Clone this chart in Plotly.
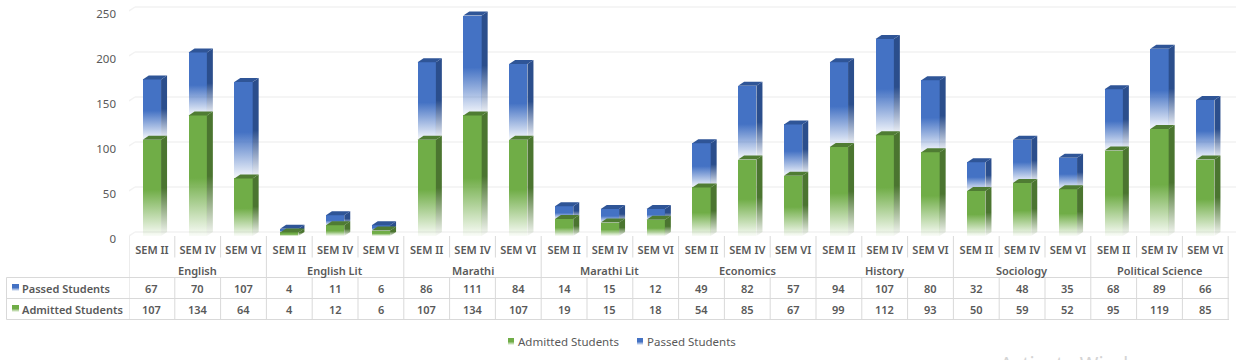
import plotly.graph_objects as go

groups = ["English", "English Lit", "Marathi", "Marathi Lit", "Economics", "History", "Sociology", "Political Science"]
semesters = ["SEM II", "SEM IV", "SEM VI"]
passed = [67, 70, 107, 4, 11, 6, 86, 111, 84, 14, 15, 12, 49, 82, 57, 94, 107, 80, 32, 48, 35, 68, 89, 66]
admitted = [107, 134, 64, 4, 12, 6, 107, 134, 107, 19, 15, 18, 54, 85, 67, 99, 112, 93, 50, 59, 52, 95, 119, 85]
y_ticks = [0, 50, 100, 150, 200, 250]

GREEN, GREEN_SIDE, GREEN_TOP = "#70ad47", "#4b7530", "#4f7c33"
BLUE, BLUE_SIDE, BLUE_TOP = "#4472c4", "#2b4e8c", "#2f5597"
TEXT = "#595959"
LINE = "#d9d9d9"
FONT = "Noto Sans"

W, H = 1243, 360
L, R, T, B = 129, 7, 5, 124
PW, PH = W - L - R, H - T - B
CAT = 45.8
UNIT = 0.9  # pixels per value unit
BAR_W = 0.4
DX, DY = 6 / CAT, 4 / UNIT
x = list(range(len(passed)))


def py(p):
    return (T + PH - p) / PH


fig = go.Figure()
fig.add_bar(x=x, y=admitted, name="Admitted Students", width=BAR_W, marker=dict(color=GREEN, line=dict(width=0)))
fig.add_bar(x=x, y=passed, name="Passed Students", width=BAR_W, marker=dict(color=BLUE, line=dict(width=0)))


def side(i, y0, y1, color):
    xr = i + BAR_W / 2
    fig.add_scatter(x=[xr, xr + DX, xr + DX, xr, xr], y=[y0, y0 + DY, y1 + DY, y1, y0], mode="lines",
                    line=dict(width=0), fill="toself", fillcolor=color, showlegend=False, cliponaxis=False)


def top(i, y1, color):
    xl, xr = i - BAR_W / 2, i + BAR_W / 2
    fig.add_scatter(x=[xl, xl + DX, xr + DX, xr, xl], y=[y1, y1 + DY, y1 + DY, y1, y1], mode="lines",
                    line=dict(width=0), fill="toself", fillcolor=color, showlegend=False, cliponaxis=False)


for i in x:
    side(i, admitted[i], admitted[i] + passed[i], BLUE_SIDE)
    top(i, admitted[i] + passed[i], BLUE_TOP)
for i in x:
    side(i, 0, admitted[i], GREEN_SIDE)
    top(i, admitted[i], GREEN_TOP)

shapes = []
x_left, x_right = -0.5, 23.5 + (PW / CAT - 24)


def hline(p, x0, x1, xref="x"):
    shapes.append(dict(type="line", xref=xref, yref="paper", x0=x0, x1=x1, y0=py(p), y1=py(p), line=dict(color=LINE, width=1)))


def vline(xv, p0, p1):
    shapes.append(dict(type="line", xref="x", yref="paper", x0=xv, x1=xv, y0=py(p0), y1=py(p1), line=dict(color=LINE, width=1)))


# back-wall gridlines
for v in y_ticks:
    shapes.append(dict(type="line", xref="x", yref="y", layer="below", x0=x_left, y0=v, x1=x_left + DX, y1=v + DY,
                       line=dict(color="#f2f2f2", width=1.5)))
    shapes.append(dict(type="line", xref="x", yref="y", layer="below", x0=x_left + DX, y0=v + DY, x1=x_right, y1=v + DY,
                       line=dict(color="#f2f2f2", width=1.5)))

# data table
RULE_1, RULE_2, RULE_3, TICK_END = 277.5, 298.5, 319.5, 257.5
for p in (RULE_1, RULE_2, RULE_3):
    hline(p, (6.5 - L) / PW, 1.0 - (W - R - 1229) / PW, xref="paper")
shapes.append(dict(type="line", xref="paper", yref="paper", x0=(6.5 - L) / PW, x1=(6.5 - L) / PW, y0=py(RULE_1), y1=py(RULE_3),
                   line=dict(color=LINE, width=1)))
n = len(passed)
for k in range(n + 1):
    xv = k - 0.5
    if k % 3 == 0:
        vline(xv, T + PH, RULE_3)
    else:
        vline(xv, T + PH, TICK_END)
        vline(xv, RULE_1, RULE_3)

# table legend keys
for p, col in ((287.5, BLUE), (308.5, GREEN)):
    shapes.append(dict(type="rect", xref="paper", yref="paper", x0=(12 - L) / PW, x1=(19 - L) / PW, y0=py(p - 3.5), y1=py(p + 3.5),
                       fillcolor=col, line=dict(width=0)))

annotations = []


def label(text, xv, p, xref="x", xanchor="center", size=11, color=TEXT, weight=600):
    annotations.append(dict(text=text, x=xv, y=py(p), xref=xref, yref="paper", xanchor=xanchor, yanchor="middle",
                            showarrow=False, font=dict(family=FONT, size=size, color=color, weight=weight)))


for g, name in enumerate(groups):
    label(name, g * 3 + 1, 270)
for i in x:
    label(str(passed[i]), i, 288.5)
    label(str(admitted[i]), i, 309.5)
label("Passed Students", (20 - L) / PW, 288.5, xref="paper", xanchor="left")
label("Admitted Students", (20 - L) / PW, 309.5, xref="paper", xanchor="left")
label("Activate Windows", (998 - L) / PW, 363, xref="paper", xanchor="left", size=20, color="#d4d4d4", weight=400)

fig.update_layout(
    width=W, height=H, margin=dict(l=L, r=R, t=T, b=B, autoexpand=False),
    paper_bgcolor="white", plot_bgcolor="white", barmode="stack", hovermode=False,
    font=dict(family=FONT, size=11, color=TEXT),
    shapes=shapes, annotations=annotations,
    legend=dict(orientation="h", x=(478 - L) / PW, y=py(327), xanchor="left", yanchor="top", traceorder="normal",
                font=dict(family=FONT, size=11.5, color=TEXT), entrywidth=84, entrywidthmode="pixels", itemwidth=30),
    xaxis=dict(range=[x_left, x_right], tickmode="array", tickvals=x, ticktext=semesters * len(groups), showgrid=False,
               zeroline=False, showline=False, ticks="", tickangle=0, ticklabelstandoff=6, automargin=False,
               tickfont=dict(family=FONT, size=11, color=TEXT, weight=600)),
    yaxis=dict(range=[0, PH / UNIT], tickmode="array", tickvals=y_ticks, showgrid=False, zeroline=False, showline=False,
               ticks="", ticklabelstandoff=12, ticklabelshift=3, automargin=False,
               tickfont=dict(family=FONT, size=11.5, color=TEXT)),
)

post = """
var gd = document.getElementById('{plot_id}');
document.body.style.margin = '0';
document.body.style.overflow = 'hidden';
var svg = gd.querySelector('.main-svg');
var NS = 'http://www.w3.org/2000/svg';
var defs = document.createElementNS(NS, 'defs');
function grad(id, col) {
  var g = document.createElementNS(NS, 'linearGradient');
  g.setAttribute('id', id); g.setAttribute('x1', '0'); g.setAttribute('y1', '0'); g.setAttribute('x2', '0'); g.setAttribute('y2', '1');
  [[0, col, 1], [0.52, col, 1], [1, col, 0.04]].forEach(function (s) {
    var st = document.createElementNS(NS, 'stop');
    st.setAttribute('offset', s[0]); st.setAttribute('stop-color', s[1]); st.setAttribute('stop-opacity', s[2]);
    g.appendChild(st);
  });
  defs.appendChild(g);
}
var map = {
  'rgb(112, 173, 71)': ['gf', '#70ad47'],
  'rgb(75, 117, 48)': ['gs', '#4b7530'],
  'rgb(68, 114, 196)': ['bf', '#4472c4'],
  'rgb(43, 78, 140)': ['bs', '#2b4e8c']
};
Object.keys(map).forEach(function (k) { grad(map[k][0], map[k][1]); });
svg.insertBefore(defs, svg.firstChild);
gd.querySelectorAll('path').forEach(function (p) {
  var m = map[p.style.fill];
  if (m) { p.style.fill = 'url(#' + m[0] + ')'; p.style.fillOpacity = 1; }
});
gd.querySelectorAll('.legend path.legendbar, .legend .legendpoints path').forEach(function (p) {
  p.setAttribute('d', 'M3,3.5H-3V-3.5H3Z');
  p.setAttribute('transform', 'translate(33,0)');
});
"""

fig.write_html("out.html", post_script=post, config=dict(displayModeBar=False, responsive=False))
